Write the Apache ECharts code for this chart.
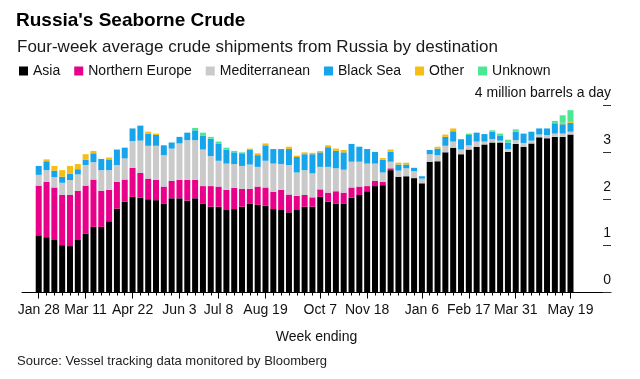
<!DOCTYPE html>
<html>
<head>
<meta charset="utf-8">
<script src="https://cdn.jsdelivr.net/npm/echarts/dist/echarts.min.js"></script>
<style>
html,body{margin:0;padding:0;background:#fff;}
#chart{width:640px;height:379px;}
</style>
</head>
<body>
<div id="chart"></div>
<script>
var weeks = ["Jan 28","Feb 4","Feb 11","Feb 18","Feb 25","Mar 4","Mar 11","Mar 18","Mar 25","Apr 1",
"Apr 8","Apr 15","Apr 22","Apr 29","May 6","May 13","May 20","May 27","Jun 3","Jun 10",
"Jun 17","Jun 24","Jul 1","Jul 8","Jul 15","Jul 22","Jul 29","Aug 5","Aug 12","Aug 19",
"Aug 26","Sep 2","Sep 9","Sep 16","Sep 23","Sep 30","Oct 7","Oct 14","Oct 21","Oct 28",
"Nov 4","Nov 11","Nov 18","Nov 25","Dec 2","Dec 9","Dec 16","Dec 23","Dec 30","Jan 6",
"Jan 13","Jan 20","Jan 27","Feb 3","Feb 10","Feb 17","Feb 24","Mar 3","Mar 10","Mar 17",
"Mar 24","Mar 31","Apr 7","Apr 14","Apr 21","Apr 28","May 5","May 12","May 19"];

var tickLabels = ["Jan 28","Mar 11","Apr 22","Jun 3","Jul 8","Aug 19","Oct 7","Nov 18","Jan 6","Feb 17","Mar 31","May 19"];

var asia = [1.22,1.18,1.12,1.01,0.99,1.12,1.26,1.40,1.40,1.52,
1.79,1.94,2.04,2.02,1.99,1.97,1.90,2.01,2.01,1.96,
2.01,1.89,1.83,1.83,1.76,1.78,1.83,1.89,1.87,1.85,
1.78,1.76,1.71,1.76,1.83,1.83,2.04,1.94,1.90,1.90,
2.02,2.08,2.16,2.27,2.29,2.61,2.47,2.48,2.44,2.33,
2.79,2.80,2.99,3.09,2.95,3.05,3.11,3.16,3.20,3.20,
3.00,3.17,3.11,3.18,3.31,3.29,3.32,3.32,3.37];

var northernEurope = [1.06,1.18,1.12,1.07,1.09,1.05,1.02,1.01,0.77,0.67,
0.57,0.47,0.62,0.53,0.44,0.43,0.36,0.37,0.39,0.44,
0.39,0.38,0.44,0.43,0.43,0.45,0.38,0.32,0.39,0.39,
0.37,0.43,0.38,0.30,0.25,0.20,0.16,0.19,0.26,0.23,
0.22,0.18,0.11,0.11,0.07,0.04,0,0,0,0,
0,0,0,0,0,0,0,0,0,0,
0,0,0,0,0,0,0,0,0];

var mediterranean = [0.23,0.25,0.22,0.26,0.32,0.35,0.44,0.37,0.44,0.42,
0.36,0.45,0.57,0.69,0.70,0.73,0.67,0.69,0.78,0.85,
0.85,0.78,0.64,0.55,0.56,0.51,0.49,0.52,0.42,0.57,
0.60,0.55,0.63,0.50,0.53,0.51,0.48,0.55,0.49,0.49,
0.55,0.53,0.48,0.37,0.20,0.14,0.13,0.17,0.15,0.10,
0.16,0.13,0.14,0.13,0.10,0.09,0.11,0.06,0.07,0.04,
0.06,0.08,0.08,0.06,0.06,0.07,0.07,0.07,0.06];

var blackSea = [0.19,0.19,0.14,0.13,0.13,0.11,0.11,0.19,0.24,0.23,
0.33,0.23,0.27,0.32,0.26,0.23,0.21,0.13,0.14,0.16,
0.21,0.30,0.37,0.36,0.30,0.25,0.27,0.31,0.25,0.33,
0.31,0.32,0.34,0.33,0.34,0.41,0.31,0.42,0.37,0.37,
0.38,0.32,0.31,0.25,0.27,0.21,0.13,0.08,0.07,0.05,
0.09,0.14,0.19,0.22,0.22,0.22,0.19,0.16,0.16,0.10,
0.14,0.18,0.20,0.19,0.13,0.14,0.22,0.20,0.19];

var other = [0,0.04,0.10,0.14,0.17,0.11,0.12,0.05,0,0.04,
0,0,0,0,0.04,0.03,0,0,0,0,
0,0,0,0,0,0,0,0.03,0.04,0.04,
0,0,0.05,0.03,0.04,0.03,0.03,0.04,0.05,0.05,
0,0,0,0,0.04,0.05,0.04,0.04,0,0,
0,0.04,0.05,0.06,0,0,0,0,0,0,
0,0,0,0,0,0,0,0.03,0.02];

var unknown = [0,0,0,0,0,0,0,0,0,0,
0,0,0,0,0,0,0,0,0,0,
0.05,0.06,0.04,0.05,0.04,0.03,0.02,0,0,0,
0,0,0,0,0,0,0,0,0,0,
0,0,0,0,0,0,0,0,0,0,
0,0,0,0,0,0.03,0,0,0.03,0.05,
0.06,0.05,0,0,0,0,0.05,0.16,0.25];

var yTicks = [0,1,2,3,4];
var yUnit = "million barrels a day";

var seriesNames = ["Asia","Northern Europe","Mediterranean","Black Sea","Other","Unknown"];
var seriesData = [asia, northernEurope, mediterranean, blackSea, other, unknown];
var seriesColors = ["#000000","#e8008a","#cacaca","#16a5ea","#f7be12","#4de793"];

var FONT = "'Liberation Sans', Arial, sans-serif";
var chart = echarts.init(document.getElementById('chart'), null, {renderer:'canvas'});

var series = seriesNames.map(function(n, i){
  return {
    name: n, type: 'bar', stack: 'total', xAxisIndex: 0, yAxisIndex: 0,
    data: seriesData[i], barWidth: 6,
    itemStyle: {color: seriesColors[i]},
    emphasis: {disabled: true}
  };
});

function isMajor(idx, val){ return tickLabels.indexOf(val) >= 0; }

var option = {
  animation: false,
  backgroundColor: '#fff',
  textStyle: {fontFamily: FONT},
  title: [
    {text: "Russia's Seaborne Crude", left: 16, top: 11, padding: 0,
     textStyle: {fontSize: 19, fontWeight: 'bold', color: '#000', fontFamily: FONT}},
    {text: 'Four-week average crude shipments from Russia by destination', left: 17, top: 39, padding: 0,
     textStyle: {fontSize: 17, fontWeight: 'normal', color: '#1a1a1a', fontFamily: FONT}},
    {text: 'Source: Vessel tracking data monitored by Bloomberg', left: 17, top: 355, padding: 0,
     textStyle: {fontSize: 13, fontWeight: 'normal', color: '#222', fontFamily: FONT}}
  ],
  legend: {
    data: seriesNames, left: 19, top: 64, padding: 0,
    icon: 'rect', itemWidth: 9, itemHeight: 9, itemGap: 14,
    selectedMode: false,
    textStyle: {fontSize: 14, color: '#111', fontFamily: FONT}
  },
  grid: [
    {left: 34.8, right: 65.6, top: 105, bottom: 86.5, containLabel: false},
    {left: 22, right: 29, top: 105, bottom: 86.5, containLabel: false},
    {left: 22, right: 37, top: 105, bottom: 86.5, containLabel: false}
  ],
  xAxis: [
    {type: 'category', gridIndex: 0, data: weeks, position: 'bottom',
     axisLine: {show: false},
     axisTick: {show: true, alignWithLabel: true, interval: 0, length: 3, lineStyle: {color: '#000'}},
     axisLabel: {show: false}},
    {type: 'category', gridIndex: 0, data: weeks, position: 'bottom',
     axisLine: {show: false},
     axisTick: {show: true, alignWithLabel: true, interval: isMajor, length: 6, lineStyle: {color: '#000'}},
     axisLabel: {show: true, interval: isMajor, margin: 11, fontSize: 14, color: '#111', fontFamily: FONT}},
    {type: 'value', gridIndex: 1, min: 0, max: 1, position: 'bottom',
     axisLine: {show: true, onZero: false, lineStyle: {color: '#000', width: 1}},
     axisTick: {show: false}, axisLabel: {show: false}, splitLine: {show: false},
     name: 'Week ending', nameLocation: 'middle', nameGap: 38,
     nameTextStyle: {fontSize: 14, color: '#111', fontFamily: FONT}},
    {type: 'value', gridIndex: 2, min: 0, max: 1, show: false}
  ],
  yAxis: [
    {type: 'value', gridIndex: 0, min: 0, max: 4, show: false},
    {type: 'value', gridIndex: 1, min: 0, max: 4, show: false},
    {type: 'value', gridIndex: 2, min: yTicks[0], max: yTicks[yTicks.length-1], interval: 1, position: 'right',
     axisLine: {show: false, onZero: false},
     axisTick: {show: true, inside: false, length: 8, lineStyle: {color: '#333'}},
     splitLine: {show: false},
     axisLabel: {show: true, inside: false, margin: 8, align: 'right', fontSize: 14, color: '#111', fontFamily: FONT,
       verticalAlign: 'bottom', padding: [0, 0, 5, 0],
       formatter: function(v){ return v === yTicks[yTicks.length-1] ? v + ' ' + yUnit : String(v); }}}
  ],
  series: series
};
chart.setOption(option);
</script>
</body>
</html>
